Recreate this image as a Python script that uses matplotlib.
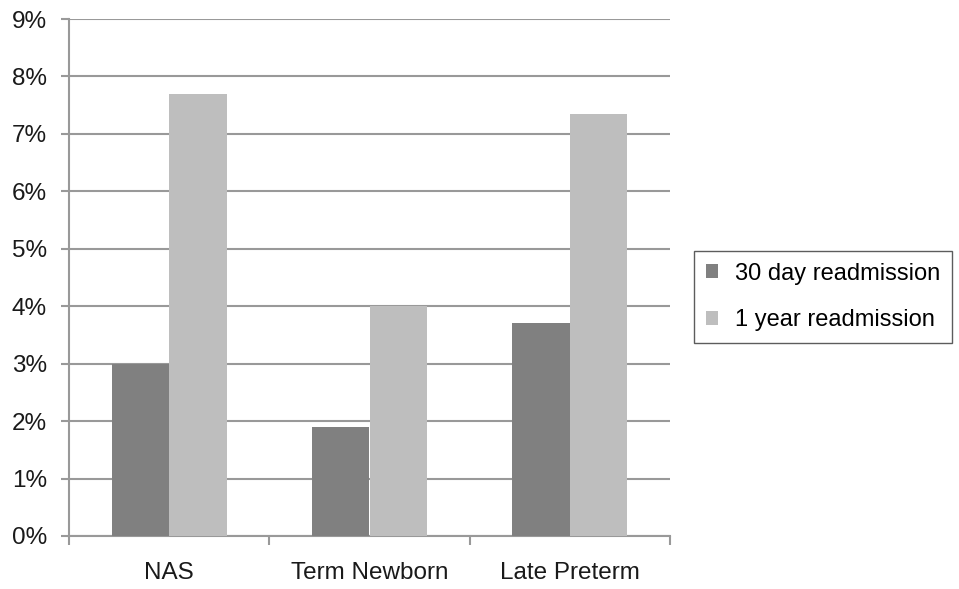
import matplotlib.pyplot as plt
import numpy as np

plt.rcParams["font.family"] = ["Liberation Sans", "DejaVu Sans"]

categories = ["NAS", "Term Newborn", "Late Preterm"]
day30 = [3.0, 1.9, 3.7]
year1 = [7.7, 4.0, 7.35]
series_names = ["30 day readmission", "1 year readmission"]

fig = plt.figure(figsize=(9.59, 5.89), dpi=100)
ax = fig.add_axes([69 / 959, 1 - 536 / 589, (670 - 69) / 959, (536 - 19) / 589])

x = np.arange(len(categories))
w = 0.2875
ax.bar(x - w / 2, day30, w, color="#808080", label=series_names[0], zorder=3)
ax.bar(x + w / 2, year1, w, color="#bebebe", label=series_names[1], zorder=3)

ax.set_xlim(-0.5, len(categories) - 0.5)
ax.set_ylim(0, 9)
ax.set_yticks(range(0, 10))
ax.set_yticklabels([f"{v}%" for v in range(0, 10)])
ax.yaxis.grid(True, color="#999999", linewidth=1.5, zorder=0)

ax.set_xticks(x)
ax.set_xticklabels(categories)
ax.set_xticks(np.arange(-0.5, len(categories), 1), minor=True)
ax.tick_params(axis="x", which="major", length=0, pad=19, labelsize=17.5, colors="#1a1a1a")
ax.tick_params(axis="x", which="minor", length=6.5, width=1.5, color="#999999")
ax.tick_params(axis="y", length=6, width=1.5, color="#999999", pad=10, labelsize=17.5, labelcolor="#1a1a1a")

for s in ["top", "right"]:
    ax.spines[s].set_visible(False)
for s in ["left", "bottom"]:
    ax.spines[s].set_color("#999999")
    ax.spines[s].set_linewidth(1.5)

leg = fig.legend(loc="center left", bbox_to_anchor=(694 / 959, 1 - 297 / 589),
                 frameon=True, fancybox=False, fontsize=17,
                 handlelength=0.5, handleheight=0.5, handletextpad=0.75,
                 borderpad=0.5, labelspacing=1.05, borderaxespad=0)
leg.get_frame().set_edgecolor("#333333")
leg.get_frame().set_linewidth(1.0)

fig.savefig("out.png", dpi=100)
